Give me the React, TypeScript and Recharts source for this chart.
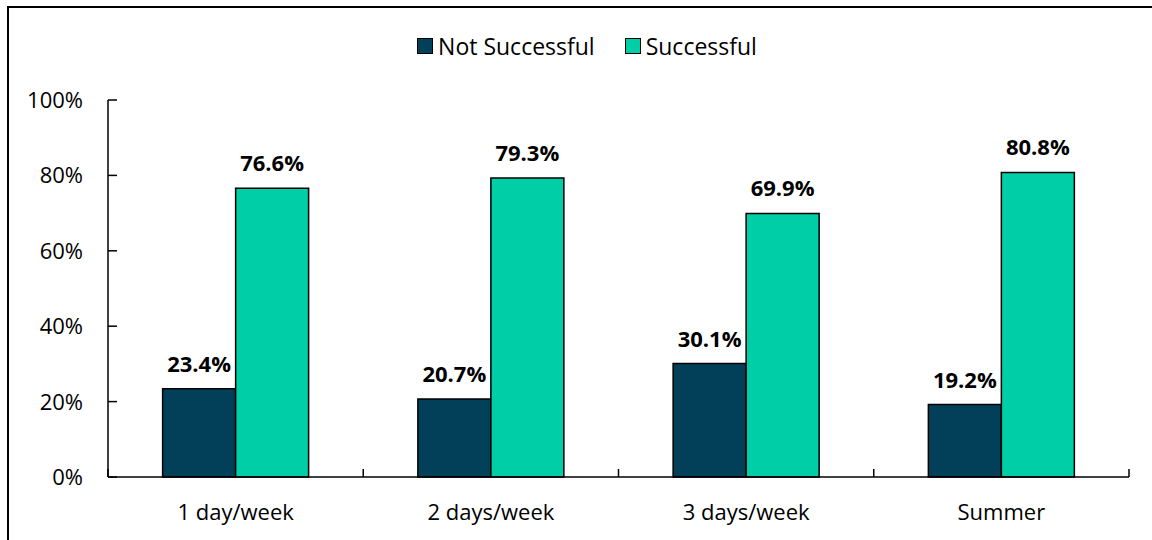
import React from "react";
import { BarChart, Bar, XAxis, YAxis, Legend, LabelList } from "recharts";

const categories = ["1 day/week", "2 days/week", "3 days/week", "Summer"];
const notSuccessful = [23.4, 20.7, 30.1, 19.2];
const successful = [76.6, 79.3, 69.9, 80.8];
const yTicks = [0, 20, 40, 60, 80, 100];

const data = categories.map((name, i) => ({
  name,
  notSuccessful: notSuccessful[i],
  successful: successful[i],
}));

const FONT = "'Open Sans', sans-serif";
const DARK = "#024059";
const TEAL = "#00CEA6";

const YTick = (props: any) => {
  const { x, y, payload } = props;
  return (
    <g>
      <line x1={x} x2={x + 9} y1={y} y2={y} stroke="#000" strokeWidth={1.5} />
      <text x={x - 25} y={y} dy="0.36em" textAnchor="end" fontSize={22} fontFamily={FONT} fill="#000">
        {payload.value}%
      </text>
    </g>
  );
};

const XTick = (props: any) => {
  const { x, y, payload, index } = props;
  const half = payload.offset || 0;
  return (
    <g>
      <line x1={x - half} x2={x - half} y1={y} y2={y - 8} stroke="#000" strokeWidth={1.5} />
      {index === categories.length - 1 && (
        <line x1={x + half} x2={x + half} y1={y} y2={y - 8} stroke="#000" strokeWidth={1.5} />
      )}
      <text x={x} y={y + 43} textAnchor="middle" fontSize={22} fontFamily={FONT} fill="#000">
        {payload.value}
      </text>
    </g>
  );
};

const LegendContent = () => (
  <div style={{ display: "flex", justifyContent: "center", fontFamily: FONT, fontSize: 23, paddingLeft: 14 }}>
    {[
      { label: "Not Successful", color: DARK },
      { label: "Successful", color: TEAL },
    ].map((item, i) => (
      <div key={item.label} style={{ display: "flex", alignItems: "center", marginLeft: i ? 30 : 0 }}>
        <span
          style={{
            display: "inline-block",
            width: 14,
            height: 14,
            background: item.color,
            border: "1.5px solid #000",
            marginRight: 5,
          }}
        />
        <span>{item.label}</span>
      </div>
    ))}
  </div>
);

const fmt = (v: any) => `${Number(v).toFixed(1)}%`;

export default function App() {
  return (
    <div style={{ width: 1144, height: 532 }}>
      {/* frame edges, cropped on the right and bottom like the original */}
      <div style={{ position: "fixed", left: 7, top: 6, width: 1200, height: 2, background: "#000", zIndex: 2 }} />
      <div style={{ position: "fixed", left: 7, top: 6, width: 2, height: 600, background: "#000", zIndex: 2 }} />
      <BarChart
        width={1144}
        height={532}
        data={data}
        margin={{ top: 92, right: 23, bottom: 23, left: 0 }}
        barCategoryGap="21.4%"
        barGap={0}
      >
        <XAxis
          dataKey="name"
          height={40}
          axisLine={{ stroke: "#000", strokeWidth: 1.5 }}
          tickLine={false}
          tickSize={0}
          tickMargin={0}
          tick={<XTick />}
          interval={0}
        />
        <YAxis
          width={100}
          domain={[0, 100]}
          ticks={yTicks}
          axisLine={{ stroke: "#000", strokeWidth: 1.5 }}
          tickLine={false}
          tickSize={0}
          tickMargin={0}
          tick={<YTick />}
        />
        <Legend verticalAlign="middle" align="center" wrapperStyle={{ top: 22, left: 0, width: 1144 }} content={<LegendContent />} />
        <Bar dataKey="notSuccessful" fill={DARK} stroke="#000" strokeWidth={1.5} isAnimationActive={false}>
          <LabelList dataKey="notSuccessful" position="top" offset={17} formatter={fmt} fill="#000" fontSize={22} fontWeight="bold" fontFamily={FONT} />
        </Bar>
        <Bar dataKey="successful" fill={TEAL} stroke="#000" strokeWidth={1.5} isAnimationActive={false}>
          <LabelList dataKey="successful" position="top" offset={17} formatter={fmt} fill="#000" fontSize={22} fontWeight="bold" fontFamily={FONT} />
        </Bar>
      </BarChart>
    </div>
  );
}
